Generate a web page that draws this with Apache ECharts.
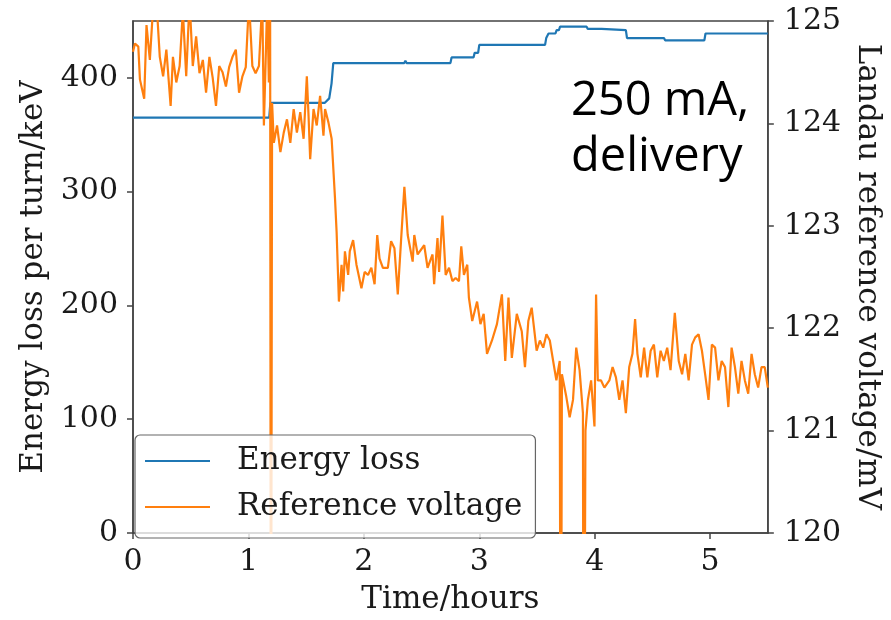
<!DOCTYPE html>
<html>
<head>
<meta charset="utf-8">
<script src="https://cdn.jsdelivr.net/npm/echarts@6/dist/echarts.min.js"></script>
<style>
html,body{margin:0;padding:0;background:#fff;}
#chart{width:891px;height:620px;}
</style>
</head>
<body>
<div id="chart"></div>
<script>
// ---- Data ----
const seriesNames = ['Energy loss', 'Reference voltage'];

// Energy loss per turn (keV), step-like trace
const energyTime = [0, 1.18, 1.19, 1.66, 1.70, 1.72, 1.735, 2.35, 2.36, 2.37, 2.75, 2.76, 2.95, 2.96, 2.99, 3.00, 3.57, 3.58, 3.60, 3.66, 3.67, 3.69, 3.70, 3.93, 3.94, 4.06, 4.07, 4.27, 4.28, 4.60, 4.61, 4.95, 4.96, 5.50];
const energyLoss = [365, 365, 378, 378, 382, 395, 413, 413, 415, 413, 413, 418, 418, 422, 422, 429, 429, 435, 439, 439, 442, 442, 445, 445, 443, 443, 442, 442, 435, 435, 433, 433, 439, 439];

// Landau reference voltage (mV)
const voltageTime = [
  0.000, 0.017, 0.046, 0.060, 0.097, 0.117, 0.146, 0.175, 0.203, 0.232, 0.261, 0.289, 0.326, 0.346, 0.375, 0.404, 0.432, 0.461, 0.490, 0.518,
  0.547, 0.576, 0.605, 0.633, 0.662, 0.690, 0.719, 0.747, 0.776, 0.805, 0.833, 0.862, 0.891, 0.919, 0.948, 0.977, 1.005, 1.034, 1.062, 1.091,
  1.120, 1.134, 1.148, 1.163, 1.177, 1.188, 1.195, 1.205, 1.220, 1.248, 1.277, 1.306, 1.334, 1.363, 1.392, 1.420, 1.449, 1.478, 1.506, 1.521,
  1.535, 1.564, 1.592, 1.621, 1.650, 1.664, 1.693, 1.721, 1.750, 1.764, 1.784, 1.807, 1.821, 1.836, 1.864, 1.878, 1.907, 1.936, 1.979, 2.007,
  2.036, 2.065, 2.093, 2.116, 2.136, 2.165, 2.208, 2.222, 2.236, 2.265, 2.294, 2.322, 2.351, 2.380, 2.423, 2.437, 2.466, 2.523, 2.552, 2.595,
  2.609, 2.638, 2.652, 2.681, 2.709, 2.738, 2.767, 2.795, 2.824, 2.844, 2.867, 2.896, 2.910, 2.939, 2.981, 3.010, 3.038, 3.067, 3.110, 3.153,
  3.196, 3.225, 3.253, 3.282, 3.325, 3.368, 3.396, 3.425, 3.454, 3.497, 3.525, 3.554, 3.582, 3.611, 3.640, 3.668, 3.697, 3.706, 3.716, 3.754,
  3.783, 3.812, 3.840, 3.869, 3.898, 3.905, 3.920, 3.941, 3.969, 3.998, 4.012, 4.027, 4.055, 4.084, 4.127, 4.155, 4.184, 4.213, 4.241, 4.270,
  4.299, 4.327, 4.350, 4.370, 4.399, 4.428, 4.456, 4.485, 4.513, 4.542, 4.571, 4.599, 4.628, 4.657, 4.694, 4.728, 4.757, 4.785, 4.814, 4.843,
  4.871, 4.900, 4.929, 4.957, 4.986, 5.015, 5.043, 5.072, 5.100, 5.129, 5.158, 5.186, 5.215, 5.244, 5.272, 5.301, 5.330, 5.359, 5.387, 5.416,
  5.445, 5.473, 5.500
];
const refVoltage = [
  124.70, 124.78, 124.75, 124.43, 124.24, 124.96, 124.62, 125.15, 125.20, 124.65, 124.46, 124.72, 124.17, 124.65, 124.40, 124.56, 125.10, 124.46, 125.20, 124.56,
  124.85, 124.49, 124.62, 124.30, 124.65, 124.45, 124.17, 124.56, 124.50, 124.36, 124.55, 124.65, 124.72, 124.30, 124.46, 124.55, 125.20, 124.56, 124.49, 124.56,
  125.20, 123.98, 124.56, 125.20, 124.40, 125.20, 117.00, 124.20, 123.81, 123.98, 123.72, 123.91, 124.04, 123.81, 124.14, 123.91, 124.11, 123.85, 124.46, 124.07,
  123.65, 124.14, 123.98, 124.27, 123.88, 124.14, 124.01, 123.85, 123.27, 122.94, 122.26, 122.62, 122.36, 122.75, 122.52, 122.75, 122.86, 122.62, 122.39, 122.55,
  122.52, 122.59, 122.43, 122.91, 122.68, 122.59, 122.59, 122.72, 122.85, 122.78, 122.33, 122.85, 123.38, 122.91, 122.65, 122.91, 122.72, 122.81, 122.59, 122.72,
  122.43, 122.88, 122.55, 123.10, 122.52, 122.59, 122.46, 122.49, 122.46, 122.80, 122.52, 122.62, 122.30, 122.07, 122.26, 122.04, 122.14, 121.75, 121.88, 122.04,
  122.33, 121.68, 122.30, 121.71, 122.14, 121.97, 121.62, 122.07, 122.20, 121.78, 121.88, 121.81, 121.94, 121.88, 121.68, 121.49, 121.68, 117.00, 121.55, 121.33,
  121.13, 121.30, 121.81, 121.59, 121.17, 117.00, 121.00, 121.30, 121.49, 121.04, 122.33, 121.49, 121.49, 121.42, 121.49, 121.62, 121.52, 121.30, 121.49, 121.17,
  121.62, 121.75, 122.09, 121.75, 121.52, 121.81, 121.52, 121.78, 121.84, 121.52, 121.78, 121.68, 121.81, 121.59, 122.15, 121.68, 121.55, 121.75, 121.49, 121.84,
  121.91, 121.94, 121.78, 121.55, 121.30, 121.84, 121.81, 121.49, 121.68, 121.62, 121.23, 121.81, 121.62, 121.36, 121.68, 121.49, 121.36, 121.75, 121.55, 121.42,
  121.62, 121.62, 121.42
];

const annotationLines = ['250 mA,', 'delivery'];

// ---- Chart ----
const serif = 'DejaVu Serif';
const textColor = '#1a1a1a';
const axisColor = '#444';

const chart = echarts.init(document.getElementById('chart'), null, {renderer: 'canvas'});

const energyData = energyTime.map((t, i) => [t, energyLoss[i]]);
const voltageData = voltageTime.map((t, i) => [t, refVoltage[i]]);

chart.setOption({
  animation: false,
  backgroundColor: '#fff',
  grid: {
    left: 133, right: 117, top: 21, bottom: 83,
    show: true, borderColor: axisColor, borderWidth: 1.5, backgroundColor: 'transparent'
  },
  xAxis: {
    type: 'value', min: 0, max: 5.5, interval: 1,
    name: 'Time/hours', nameLocation: 'middle', nameGap: 51,
    nameTextStyle: {fontFamily: serif, fontSize: 31, color: textColor},
    axisLine: {show: true, lineStyle: {color: axisColor, width: 1.5}},
    axisTick: {show: true, inside: false, length: 6, lineStyle: {color: axisColor, width: 1.5}},
    axisLabel: {fontFamily: serif, fontSize: 30, color: textColor, margin: 14, showMaxLabel: false},
    splitLine: {show: false}
  },
  yAxis: [
    {
      type: 'value', min: 0, max: 450, interval: 100, position: 'left',
      name: 'Energy loss per turn/keV', nameLocation: 'middle', nameGap: 79,
      nameTextStyle: {fontFamily: serif, fontSize: 31, color: textColor},
      axisLine: {show: true, lineStyle: {color: axisColor, width: 1.5}},
      axisTick: {show: true, inside: false, length: 6, lineStyle: {color: axisColor, width: 1.5}},
      axisLabel: {fontFamily: serif, fontSize: 30, color: textColor, margin: 15, showMaxLabel: false},
      splitLine: {show: false}
    },
    {
      type: 'value', min: 120, max: 125, interval: 1, position: 'right',
      name: 'Landau reference voltage/mV', nameLocation: 'middle', nameGap: 81, nameRotate: -90,
      nameTextStyle: {fontFamily: serif, fontSize: 31, color: textColor},
      axisLine: {show: true, lineStyle: {color: axisColor, width: 1.5}},
      axisTick: {show: true, inside: false, length: 6, lineStyle: {color: axisColor, width: 1.5}},
      axisLabel: {fontFamily: serif, fontSize: 30, color: textColor, margin: 16},
      splitLine: {show: false}
    }
  ],
  legend: {
    show: true,
    orient: 'vertical',
    left: 135, top: 435,
    padding: [8, 13, 13, 10],
    itemGap: 10,
    itemWidth: 65, itemHeight: 2,
    icon: 'rect',
    backgroundColor: 'rgba(255,255,255,0.8)',
    borderColor: '#666', borderWidth: 1.2, borderRadius: 5,
    textStyle: {fontFamily: serif, fontSize: 31, color: textColor, lineHeight: 36, padding: [0, 0, 0, 22]},
    data: seriesNames
  },
  graphic: [{
    type: 'text',
    left: 571, top: 74,
    z: 100,
    style: {
      text: annotationLines.join('\n'),
      fontFamily: 'Open Sans',
      fontSize: 47,
      lineHeight: 56,
      fill: '#000'
    }
  }],
  series: [
    {
      name: seriesNames[0], type: 'line', xAxisIndex: 0, yAxisIndex: 0,
      data: energyData, showSymbol: false, symbol: 'none',
      lineStyle: {color: '#1f77b4', width: 2.2},
      itemStyle: {color: '#1f77b4'},
      clip: true
    },
    {
      name: seriesNames[1], type: 'line', xAxisIndex: 0, yAxisIndex: 1,
      data: voltageData, showSymbol: false, symbol: 'none',
      lineStyle: {color: '#ff7f0e', width: 2.2},
      itemStyle: {color: '#ff7f0e'},
      clip: true
    }
  ]
});
</script>
</body>
</html>
